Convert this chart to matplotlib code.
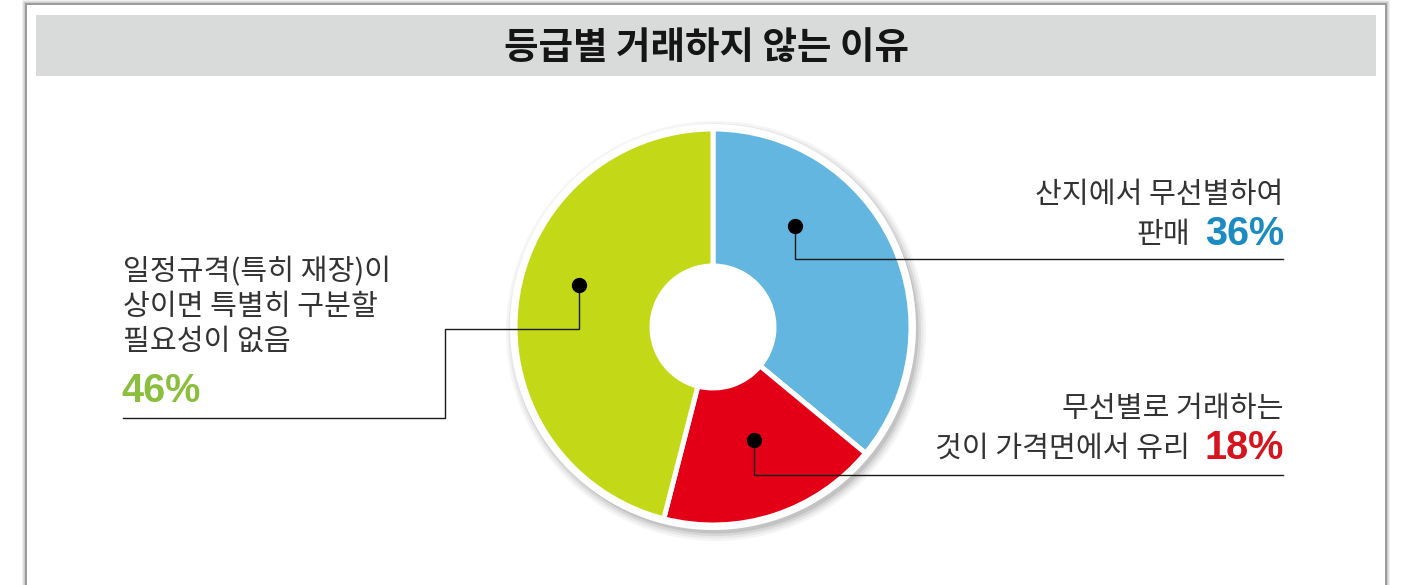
import matplotlib
matplotlib.use("Agg")
import matplotlib.pyplot as plt
from matplotlib.patches import Rectangle, Circle

plt.rcParams['font.family'] = ['Noto Sans CJK KR', 'DejaVu Sans']

# Chart data
title = "등급별 거래하지 않는 이유"
reasons = ["산지에서 무선별하여\n판매",
           "무선별로 거래하는\n것이 가격면에서 유리",
           "일정규격(특히 재장)이\n상이면 특별히 구분할\n필요성이 없음"]
shares = [36, 18, 46]
wedge_colors = ["#62B6DF", "#E30016", "#C3D816"]
pct_colors = ["#1B8BC1", "#D5141E", "#8BBE3C"]

W, H = 1404, 585


def py(y):
    # convert a top-down pixel row into axes y
    return H - y


fig = plt.figure(figsize=(W / 100, H / 100), dpi=100)
ax = fig.add_axes([0, 0, 1, 1])

# Outer panel with a faint shadow
for i, a in enumerate([0.05, 0.08, 0.12]):
    d = 3 - i
    ax.add_patch(Rectangle((26 - d, -10), 1360 + 2 * d, py(4) + 10 + d,
                           facecolor='none', edgecolor='black', alpha=a,
                           linewidth=1.5, zorder=1))
ax.add_patch(Rectangle((26, -10), 1360, py(4) + 10, facecolor='white',
                       edgecolor='#9A9A9A', linewidth=1.4, zorder=2))

# Title bar
ax.add_patch(Rectangle((36, py(76)), 1340, 61, facecolor='#D9DBDA',
                       edgecolor='none', zorder=3))
ax.text(706, py(59), title, ha='center', va='baseline', fontsize=27,
        fontweight='heavy', color='#151515', zorder=4)

# Donut
cx, cy, r_out, r_in = 713, py(327), 198, 61
for i, a in enumerate([0.04, 0.05, 0.07, 0.09]):
    ax.add_patch(Circle((cx + 3, cy - 4), r_out + 12 - 2.5 * i,
                        facecolor='black', edgecolor='none', alpha=a,
                        zorder=4))
ax.add_patch(Circle((cx, cy), r_out + 5, facecolor='white',
                    edgecolor='none', zorder=5))
wedges, _ = ax.pie(shares, colors=wedge_colors, startangle=90,
                   counterclock=False, radius=r_out, center=(cx, cy),
                   wedgeprops=dict(width=r_out - r_in, edgecolor='white',
                                   linewidth=3.6))
for w in wedges:
    w.set_zorder(6)

ax.set_xlim(0, W)
ax.set_ylim(0, H)
ax.set_aspect('equal')
ax.axis('off')

# Leader lines (dot, then elbow to the label rule)
leaders = [
    [(795, 226), (795, 259), (1283, 259)],
    [(754, 440), (754, 475), (1283, 475)],
    [(579, 285), (579, 329), (445, 329), (445, 418), (123, 418)],
]
for pts in leaders:
    xs = [p[0] for p in pts]
    ys = [py(p[1]) for p in pts]
    ax.plot(xs, ys, color='#1A1A1A', linewidth=1.0, zorder=7,
            solid_joinstyle='miter')
    ax.plot(xs[0], ys[0], 'o', color='black', markersize=10, zorder=8)

# Labels
txt = dict(fontsize=21, color='#333333', va='baseline', zorder=8)
pct = dict(fontsize=28.5, fontweight='bold', va='baseline', zorder=8,
           family=['Liberation Sans', 'DejaVu Sans'])

fig.canvas.draw()
renderer = fig.canvas.get_renderer()

# right-hand labels: last line shares a row with the percentage
for idx, (base1, base2) in zip([0, 1], [(203, 243), (417, 457)]):
    lines = reasons[idx].split("\n")
    ax.text(1283, py(base1), lines[0], ha='right', **txt)
    t = ax.text(1284, py(base2 + 2), f"{shares[idx]}%", ha='right',
                color=pct_colors[idx], **pct)
    bb = t.get_window_extent(renderer)
    left = ax.transData.inverted().transform((bb.x0, bb.y0))[0]
    ax.text(left - 15, py(base2), lines[1], ha='right', **txt)

# left-hand label
for k, line in enumerate(reasons[2].split("\n")):
    ax.text(123, py(280 + 35 * k), line, ha='left', **txt)
ax.text(121, py(402), f"{shares[2]}%", ha='left', color=pct_colors[2], **pct)

fig.savefig("out.png", dpi=100, facecolor='white')
